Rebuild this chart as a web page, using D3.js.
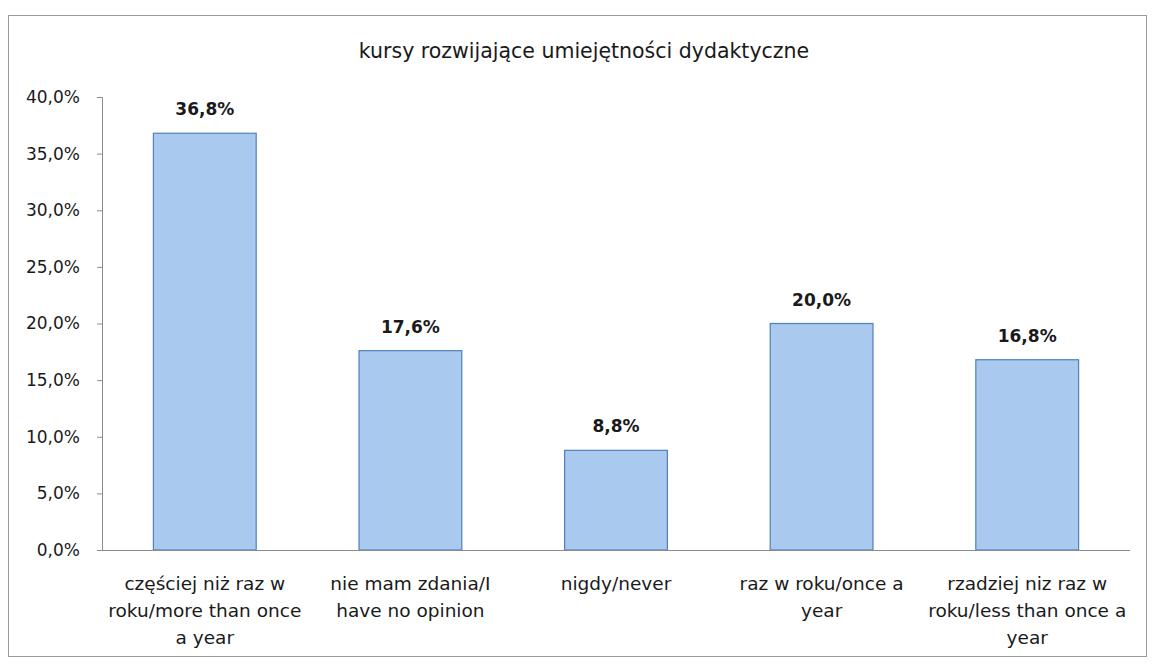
<!DOCTYPE html>
<html>
<head>
<meta charset="utf-8">
<script src="https://cdn.jsdelivr.net/npm/d3@7"></script>
<style>
  body { margin: 0; background: #fff; }
  svg text { font-family: "DejaVu Sans", sans-serif; fill: #1a1a1a; }
</style>
</head>
<body>
<script>
var categories = [
  ["częściej niż raz w", "roku/more than once", "a year"],
  ["nie mam zdania/I", "have no opinion"],
  ["nigdy/never"],
  ["raz w roku/once a", "year"],
  ["rzadziej niz raz w", "roku/less than once a", "year"]
]
var values = [36.8, 17.6, 8.8, 20.0, 16.8]
var yTicks = [0, 5, 10, 15, 20, 25, 30, 35, 40]
var title = "kursy rozwijające umiejętności dydaktyczne"

var svg = d3.select("body").append("svg")
  .attr('width', 1156)
  .attr('height', 664)

// outer chart frame
svg.append("rect")
  .attr('x', 8.5).attr('y', 15.5)
  .attr('width', 1138).attr('height', 641)
  .attr('fill', 'none')
  .attr('stroke', '#9a9a9a')

svg.append("text")
  .attr('x', 584).attr('y', 58)
  .attr('text-anchor', 'middle')
  .style('font-size', '20.5px')
  .text(title)

var x = d3.scaleBand()
  .domain(d3.range(values.length))
  .range([102, 1130])
  .paddingInner(0.5)
  .paddingOuter(0.25)

var y = d3.scaleLinear()
  .domain([0, 40])
  .range([550, 97])

var fmt = function(d) { return d.toFixed(1).replace('.', ',') + '%' }

var yAxis = svg.append("g")
  .attr('transform', 'translate(102,0)')
  .call(d3.axisLeft(y).tickValues(yTicks).tickFormat(fmt).tickSize(5).tickPadding(17))
yAxis.select('.domain').attr('stroke', '#8c8c8c')
yAxis.selectAll('.tick line').attr('stroke', '#8c8c8c')
yAxis.selectAll('.tick text').style('font-size', '17px').attr('fill', '#1a1a1a')

svg.selectAll("rect.bar")
  .data(values)
  .enter().append("rect")
  .attr('class', 'bar')
  .attr('x', function(d, i) { return x(i) })
  .attr('width', x.bandwidth())
  .attr('y', function(d) { return y(d) })
  .attr('height', function(d) { return y(0) - y(d) })
  .attr('fill', '#a9c9ee')
  .attr('stroke', '#4f81bd')
  .attr('stroke-width', 1.2)

svg.append("line")
  .attr('x1', 102).attr('x2', 1130)
  .attr('y1', 550.5).attr('y2', 550.5)
  .attr('stroke', '#8c8c8c')

svg.selectAll("text.val")
  .data(values)
  .enter().append("text")
  .attr('class', 'val')
  .attr('x', function(d, i) { return x(i) + x.bandwidth() / 2 })
  .attr('y', function(d) { return y(d) - 18 })
  .attr('text-anchor', 'middle')
  .style('font-size', '17px')
  .style('font-weight', 'bold')
  .text(function(d) { return fmt(d) })

var labels = svg.selectAll("text.cat")
  .data(categories)
  .enter().append("text")
  .attr('class', 'cat')
  .attr('text-anchor', 'middle')
  .style('font-size', '18.5px')
  .attr('transform', function(d, i) { return 'translate(' + (x(i) + x.bandwidth() / 2) + ',590)' })

labels.selectAll("tspan")
  .data(function(d) { return d })
  .enter().append("tspan")
  .attr('x', 0)
  .attr('y', function(d, j) { return j * 27 })
  .text(function(d) { return d })
</script>
</body>
</html>
